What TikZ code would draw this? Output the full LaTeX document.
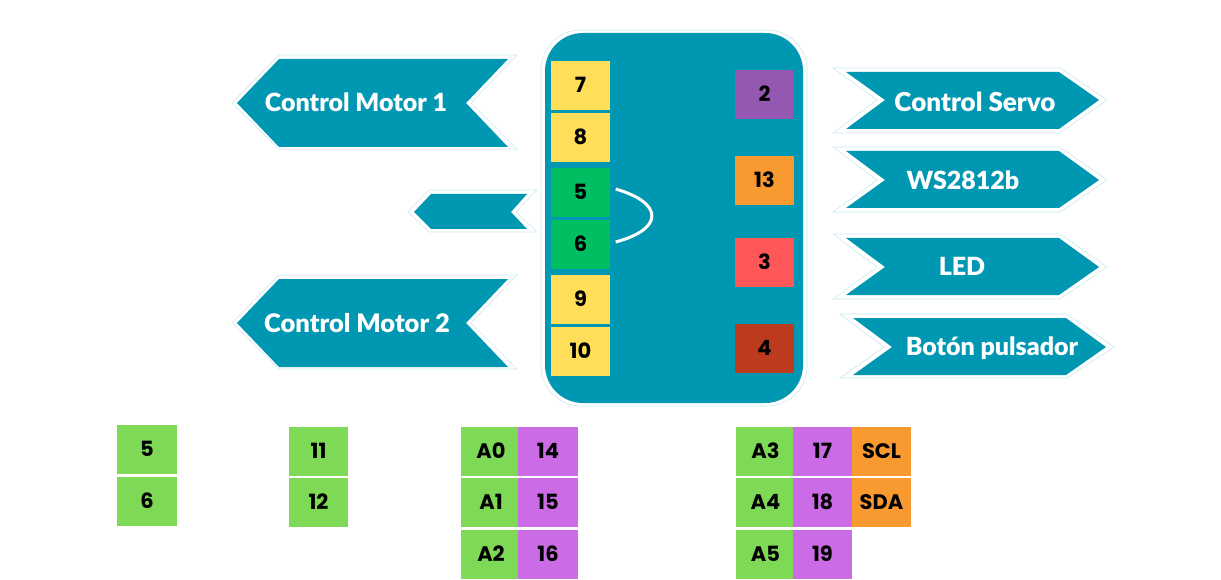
\documentclass[tikz,border=0pt]{standalone}
\usepackage{fontspec}
\setmainfont{Poppins}
\newfontfamily\bannerfont{Lato Black}
\definecolor{boardc}{HTML}{0097B2}
\definecolor{haloc}{HTML}{C9E9F0}
\definecolor{yellowc}{HTML}{FFDE59}
\definecolor{greenc}{HTML}{00BF63}
\definecolor{violetc}{HTML}{9558B2}
\definecolor{orangec}{HTML}{F99A31}
\definecolor{redc}{HTML}{FF5757}
\definecolor{brownc}{HTML}{BC3B1F}
\definecolor{limec}{HTML}{7ED957}
\definecolor{pinkc}{HTML}{CB6CE6}
\tikzset{
    banner/.style={fill=boardc},
    halo/.style={draw=haloc,line width=0.6pt},
    bannertext/.style={text=white,font=\bannerfont\fontsize{25}{25}\selectfont,inner sep=0pt,text height=18pt,text depth=0pt},
    pin/.style={inner sep=0pt,minimum width=59pt,minimum height=49pt,text height=14pt,text depth=0pt,
        font=\bfseries\fontsize{21}{21}\selectfont},
    jumper/.style={draw=white,line width=3pt}
}
\begin{document}
\begin{tikzpicture}[x=1pt,y=-1pt]
    \useasboundingbox (0,0) rectangle (1221,580);

    % board
    \draw[halo,rounded corners=40pt] (541,30) rectangle (807,406);
    \fill[banner,rounded corners=38pt] (545,33) rectangle (803,403);

    % left side
    \draw[halo] (232,103) -- (279,55) -- (517,55) -- (471,103) -- (517,149) -- (279,149) -- cycle;
    \fill[banner] (237,103) -- (279,59) -- (508,59) -- (466,103) -- (508,147) -- (279,147) -- cycle;
    \node[bannertext] (motorone) at (356,103) {Control Motor 1};

    \draw[halo] (408,212) -- (429,190) -- (537,190) -- (516,212) -- (537,232) -- (429,232) -- cycle;
    \fill[banner] (414,212) -- (431,194) -- (527,194) -- (511,212) -- (527,229) -- (431,229) -- cycle;

    \begin{scope}[yshift=-220pt]
    \draw[halo] (232,103) -- (279,55) -- (517,55) -- (471,103) -- (517,149) -- (279,149) -- cycle;
    \fill[banner] (237,103) -- (279,59) -- (508,59) -- (466,103) -- (508,147) -- (279,147) -- cycle;
    \node[bannertext,font=\bannerfont\fontsize{25.5}{25.5}\selectfont] (motortwo) at (357,103) {Control Motor 2};
    \end{scope}

    % right side
    \draw[halo] (833,68) -- (1060,68) -- (1107,100) -- (1060,133) -- (833,133) -- (877,100) -- cycle;
    \fill[banner] (846,72) -- (1059,72) -- (1099,100) -- (1059,129) -- (846,129) -- (885,100) -- cycle;
    \node[bannertext,font=\bannerfont\fontsize{26}{26}\selectfont] (servo) at (975,103) {Control Servo};

    \draw[halo] (833,147) -- (1060,147) -- (1107,180) -- (1060,212) -- (833,212) -- (877,180) -- cycle;
    \fill[banner] (846,151) -- (1059,151) -- (1099,180) -- (1059,208) -- (846,208) -- (885,180) -- cycle;
    \node[bannertext] (strip) at (963,180.5) {WS2812b};

    \draw[halo] (833,234) -- (1060,234) -- (1107,267) -- (1060,299) -- (833,299) -- (877,267) -- cycle;
    \fill[banner] (846,238) -- (1059,238) -- (1099,267) -- (1059,295) -- (846,295) -- (885,267) -- cycle;
    \node[bannertext] (led) at (962,266.5) {LED};

    \draw[halo] (840,314) -- (1067,314) -- (1114,347) -- (1067,378) -- (840,378) -- (884,347) -- cycle;
    \fill[banner] (853,318) -- (1066,318) -- (1106,347) -- (1066,375) -- (853,375) -- (892,347) -- cycle;
    \node[bannertext] (button) at (992,346) {Botón pulsador};

    % pins on the board
    \node[pin,fill=yellowc] (pinseven) at (580.5,85.5) {7};
    \node[pin,fill=yellowc] (pineight) at (580.5,137.5) {8};
    \node[pin,fill=greenc] (pinfive) at (580.5,192.5) {5};
    \node[pin,fill=greenc] (pinsix) at (580.5,244.5) {6};
    \node[pin,fill=yellowc] (pinnine) at (580.5,299.5) {9};
    \node[pin,fill=yellowc] (pinten) at (580.5,351.5) {10};

    \node[pin,fill=violetc] (pintwo) at (764.5,94.5) {2};
    \node[pin,fill=orangec] (pinthirteen) at (764.5,180.5) {13};
    \node[pin,fill=redc] (pinthree) at (764.5,262.5) {3};
    \node[pin,fill=brownc] (pinfour) at (764.5,348.5) {4};

    \draw[jumper] ([shift={(5.5,-3.5)}]pinfive.east) .. controls (664,203) and (664,229) .. ([shift={(5.5,-2.5)}]pinsix.east);

    % tables below
    \node[pin,fill=limec,minimum width=60pt] (lowfive) at (147,449) {5};
    \node[pin,fill=limec,minimum width=60pt] (lowsix) at (147,501) {6};

    \node[pin,fill=limec] (loweleven) at (318.5,451) {11};
    \node[pin,fill=limec] (lowtwelve) at (318.5,502.5) {12};

    \node[pin,fill=limec,minimum width=60pt] (azero) at (491,451) {A0};
    \node[pin,fill=limec,minimum width=60pt] (aone) at (491,502.5) {A1};
    \node[pin,fill=limec,minimum width=60pt] (atwo) at (491,554.5) {A2};
    \node[pin,fill=pinkc,minimum width=60pt] (pinfourteen) at (548,451) {14};
    \node[pin,fill=pinkc,minimum width=60pt] (pinfifteen) at (548,502.5) {15};
    \node[pin,fill=pinkc,minimum width=60pt] (pinsixteen) at (548,554.5) {16};

    \node[pin,fill=limec] (athree) at (765.5,451) {A3};
    \node[pin,fill=limec] (afour) at (765.5,502.5) {A4};
    \node[pin,fill=limec] (afive) at (765.5,554.5) {A5};
    \node[pin,fill=pinkc] (pinseventeen) at (822.5,451) {17};
    \node[pin,fill=pinkc] (pineighteen) at (822.5,502.5) {18};
    \node[pin,fill=pinkc] (pinnineteen) at (822.5,554.5) {19};
    \node[pin,fill=orangec] (scl) at (881.5,451) {SCL};
    \node[pin,fill=orangec] (sda) at (881.5,502.5) {SDA};
\end{tikzpicture}
\end{document}
